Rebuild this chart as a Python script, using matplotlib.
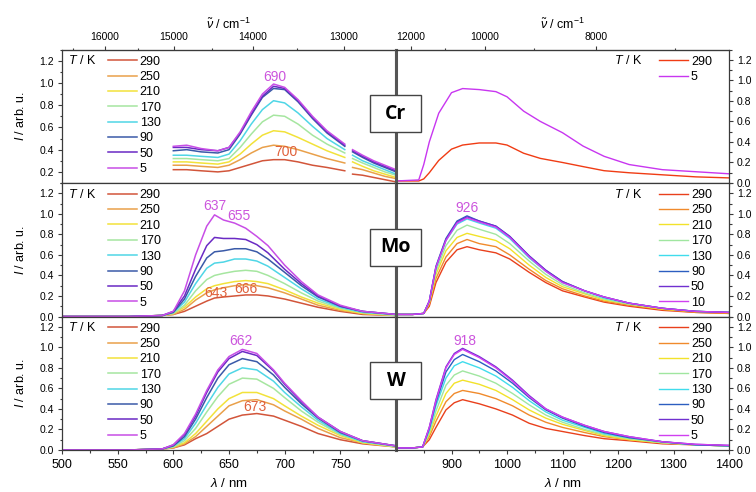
import numpy as np
import matplotlib.pyplot as plt
from matplotlib.patches import Rectangle
from matplotlib.ticker import MultipleLocator, FixedLocator, FormatStrFormatter

plt.rcParams['font.family'] = ['Liberation Sans', 'DejaVu Sans']
plt.rcParams['mathtext.fontset'] = 'custom'
plt.rcParams['mathtext.rm'] = 'Liberation Sans'
plt.rcParams['mathtext.it'] = 'Liberation Sans:italic'

# --- data ---
temps = [290, 250, 210, 170, 130, 90, 50, 5]
temps_mo_nir = [290, 250, 210, 170, 130, 90, 50, 10]
temps_cr_nir = [290, 5]

vis_colors = ['#d2553a', '#e9a04a', '#f2e23a', '#a6e6a0', '#4fd6e6', '#3a5aa8', '#6a2ac4', '#c84ee6']
nir_colors = ['#e9401c', '#f08a2c', '#f2e22a', '#a0e6a0', '#40dcec', '#2c5ec0', '#7030d0', '#d040f0']
cr_nir_colors = ['#f03c14', '#c836f0']

# Cr, visible (two segments, gap near 757 nm)
cr_vis_wl_a = [600, 612, 625, 640, 650, 660, 670, 680, 690, 700, 712, 725, 738, 754]
cr_vis_wl_b = [761, 770, 780, 790, 800]
cr_vis_a = {
    290: [0.22, 0.22, 0.21, 0.20, 0.21, 0.24, 0.27, 0.30, 0.31, 0.31, 0.29, 0.26, 0.24, 0.21],
    250: [0.26, 0.26, 0.25, 0.24, 0.26, 0.31, 0.37, 0.42, 0.44, 0.43, 0.40, 0.36, 0.32, 0.28],
    210: [0.29, 0.29, 0.28, 0.27, 0.29, 0.36, 0.45, 0.53, 0.57, 0.56, 0.51, 0.45, 0.39, 0.33],
    170: [0.32, 0.32, 0.31, 0.30, 0.32, 0.42, 0.54, 0.65, 0.71, 0.70, 0.63, 0.53, 0.45, 0.37],
    130: [0.35, 0.35, 0.34, 0.33, 0.36, 0.48, 0.63, 0.76, 0.84, 0.82, 0.73, 0.61, 0.50, 0.40],
    90: [0.39, 0.40, 0.38, 0.37, 0.40, 0.54, 0.71, 0.87, 0.95, 0.94, 0.83, 0.68, 0.55, 0.43],
    50: [0.42, 0.42, 0.40, 0.39, 0.42, 0.55, 0.72, 0.88, 0.97, 0.95, 0.84, 0.69, 0.56, 0.44],
    5: [0.43, 0.44, 0.41, 0.39, 0.42, 0.56, 0.74, 0.90, 0.99, 0.96, 0.85, 0.70, 0.57, 0.45],
}
cr_vis_b = {
    290: [0.18, 0.17, 0.15, 0.13, 0.11],
    250: [0.24, 0.22, 0.19, 0.16, 0.14],
    210: [0.29, 0.25, 0.21, 0.18, 0.15],
    170: [0.32, 0.28, 0.24, 0.20, 0.17],
    130: [0.35, 0.30, 0.26, 0.22, 0.18],
    90: [0.38, 0.33, 0.28, 0.24, 0.20],
    50: [0.39, 0.34, 0.29, 0.25, 0.21],
    5: [0.40, 0.35, 0.30, 0.26, 0.22],
}

# Cr, near infrared
cr_nir_wl = [800, 841, 850, 860, 877, 900, 920, 950, 980, 1000, 1030, 1060, 1100, 1137, 1175, 1220, 1280, 1340, 1400]
cr_nir = {
    290: [0.02, 0.02, 0.04, 0.10, 0.22, 0.33, 0.37, 0.39, 0.39, 0.37, 0.29, 0.24, 0.20, 0.16, 0.12, 0.10, 0.08, 0.06, 0.05],
    5: [0.02, 0.03, 0.18, 0.40, 0.68, 0.88, 0.92, 0.91, 0.89, 0.84, 0.70, 0.60, 0.49, 0.36, 0.26, 0.18, 0.13, 0.11, 0.09],
}

# Mo, visible
mo_vis_wl = [500, 560, 590, 600, 610, 620, 630, 637, 645, 655, 665, 675, 685, 700, 715, 730, 750, 770, 800]
mo_vis = {
    290: [0, 0, 0.01, 0.02, 0.05, 0.10, 0.15, 0.18, 0.19, 0.20, 0.21, 0.21, 0.20, 0.17, 0.13, 0.09, 0.05, 0.02, 0.01],
    250: [0, 0, 0.01, 0.02, 0.07, 0.16, 0.23, 0.26, 0.28, 0.30, 0.31, 0.30, 0.28, 0.23, 0.17, 0.11, 0.06, 0.03, 0.01],
    210: [0, 0, 0.01, 0.03, 0.09, 0.19, 0.27, 0.30, 0.32, 0.34, 0.35, 0.34, 0.32, 0.26, 0.19, 0.13, 0.07, 0.03, 0.01],
    170: [0, 0, 0.01, 0.03, 0.11, 0.25, 0.36, 0.40, 0.42, 0.44, 0.45, 0.44, 0.40, 0.32, 0.23, 0.15, 0.08, 0.04, 0.01],
    130: [0, 0, 0.01, 0.04, 0.14, 0.32, 0.47, 0.52, 0.53, 0.56, 0.56, 0.54, 0.49, 0.38, 0.27, 0.17, 0.09, 0.04, 0.02],
    90: [0, 0, 0.01, 0.04, 0.17, 0.39, 0.57, 0.63, 0.64, 0.66, 0.66, 0.63, 0.56, 0.43, 0.30, 0.19, 0.10, 0.05, 0.02],
    50: [0, 0, 0.01, 0.05, 0.20, 0.46, 0.69, 0.77, 0.76, 0.76, 0.75, 0.70, 0.62, 0.46, 0.32, 0.20, 0.10, 0.05, 0.02],
    5: [0, 0, 0.01, 0.05, 0.25, 0.60, 0.88, 0.99, 0.94, 0.91, 0.86, 0.78, 0.69, 0.50, 0.34, 0.21, 0.11, 0.05, 0.02],
}

# Mo, near infrared
mo_nir_wl = [800, 830, 850, 860, 872, 890, 910, 928, 950, 980, 1005, 1040, 1070, 1100, 1140, 1175, 1220, 1280, 1340, 1400]
mo_nir = {
    290: [0.02, 0.02, 0.03, 0.10, 0.33, 0.53, 0.65, 0.68, 0.65, 0.62, 0.56, 0.43, 0.33, 0.25, 0.19, 0.14, 0.10, 0.06, 0.04, 0.03],
    250: [0.02, 0.02, 0.03, 0.12, 0.37, 0.58, 0.71, 0.75, 0.71, 0.68, 0.60, 0.46, 0.35, 0.27, 0.20, 0.15, 0.11, 0.07, 0.04, 0.03],
    210: [0.02, 0.02, 0.03, 0.13, 0.41, 0.64, 0.77, 0.81, 0.78, 0.74, 0.66, 0.50, 0.38, 0.29, 0.22, 0.16, 0.12, 0.07, 0.05, 0.04],
    170: [0.02, 0.02, 0.03, 0.14, 0.44, 0.69, 0.84, 0.89, 0.85, 0.80, 0.71, 0.54, 0.41, 0.31, 0.23, 0.17, 0.12, 0.08, 0.05, 0.04],
    130: [0.02, 0.02, 0.03, 0.15, 0.47, 0.74, 0.90, 0.95, 0.91, 0.86, 0.76, 0.57, 0.44, 0.33, 0.25, 0.18, 0.13, 0.08, 0.05, 0.04],
    90: [0.02, 0.02, 0.03, 0.15, 0.49, 0.76, 0.93, 0.98, 0.93, 0.88, 0.78, 0.59, 0.45, 0.34, 0.25, 0.19, 0.13, 0.08, 0.05, 0.04],
    50: [0.02, 0.02, 0.03, 0.15, 0.48, 0.75, 0.92, 0.97, 0.93, 0.88, 0.78, 0.59, 0.45, 0.34, 0.25, 0.19, 0.13, 0.08, 0.05, 0.04],
    10: [0.02, 0.02, 0.03, 0.15, 0.48, 0.74, 0.91, 0.96, 0.92, 0.87, 0.77, 0.58, 0.44, 0.33, 0.25, 0.19, 0.13, 0.08, 0.05, 0.04],
}

# W, visible
w_vis_wl = [500, 560, 590, 600, 610, 620, 630, 640, 650, 662, 675, 690, 700, 715, 730, 750, 770, 800]
w_vis = {
    290: [0, 0, 0.01, 0.02, 0.05, 0.11, 0.16, 0.23, 0.30, 0.34, 0.355, 0.33, 0.29, 0.23, 0.16, 0.10, 0.06, 0.03],
    250: [0, 0, 0.01, 0.02, 0.06, 0.13, 0.23, 0.33, 0.43, 0.48, 0.49, 0.44, 0.38, 0.30, 0.21, 0.12, 0.07, 0.03],
    210: [0, 0, 0.01, 0.03, 0.07, 0.16, 0.28, 0.40, 0.50, 0.56, 0.56, 0.50, 0.43, 0.33, 0.24, 0.14, 0.07, 0.03],
    170: [0, 0, 0.01, 0.03, 0.09, 0.21, 0.37, 0.52, 0.64, 0.70, 0.69, 0.60, 0.51, 0.38, 0.27, 0.15, 0.08, 0.03],
    130: [0, 0, 0.01, 0.04, 0.11, 0.26, 0.44, 0.61, 0.74, 0.80, 0.78, 0.67, 0.56, 0.42, 0.29, 0.16, 0.08, 0.04],
    90: [0, 0, 0.01, 0.04, 0.13, 0.30, 0.51, 0.70, 0.83, 0.89, 0.86, 0.73, 0.61, 0.45, 0.31, 0.17, 0.09, 0.04],
    50: [0, 0, 0.01, 0.05, 0.15, 0.33, 0.56, 0.76, 0.89, 0.96, 0.92, 0.77, 0.64, 0.47, 0.32, 0.18, 0.09, 0.04],
    5: [0, 0, 0.01, 0.05, 0.16, 0.35, 0.58, 0.78, 0.91, 0.98, 0.94, 0.78, 0.65, 0.48, 0.32, 0.18, 0.09, 0.04],
}

# W, near infrared
w_nir_wl = [800, 830, 848, 860, 872, 890, 905, 920, 950, 980, 1010, 1040, 1070, 1100, 1140, 1175, 1220, 1280, 1340, 1400]
w_nir = {
    290: [0.02, 0.02, 0.03, 0.10, 0.22, 0.39, 0.46, 0.49, 0.45, 0.40, 0.34, 0.26, 0.21, 0.18, 0.14, 0.11, 0.09, 0.06, 0.05, 0.04],
    250: [0.02, 0.02, 0.03, 0.13, 0.28, 0.47, 0.55, 0.58, 0.55, 0.50, 0.43, 0.34, 0.27, 0.22, 0.17, 0.13, 0.10, 0.07, 0.05, 0.04],
    210: [0.02, 0.02, 0.03, 0.15, 0.33, 0.55, 0.65, 0.68, 0.64, 0.58, 0.49, 0.39, 0.31, 0.25, 0.19, 0.14, 0.10, 0.07, 0.05, 0.04],
    170: [0.02, 0.02, 0.03, 0.17, 0.38, 0.63, 0.73, 0.77, 0.72, 0.65, 0.55, 0.44, 0.34, 0.27, 0.20, 0.15, 0.11, 0.07, 0.05, 0.04],
    130: [0.02, 0.02, 0.03, 0.19, 0.43, 0.70, 0.82, 0.86, 0.80, 0.72, 0.61, 0.48, 0.37, 0.29, 0.22, 0.16, 0.12, 0.08, 0.05, 0.04],
    90: [0.02, 0.02, 0.03, 0.21, 0.46, 0.76, 0.88, 0.93, 0.86, 0.77, 0.65, 0.51, 0.39, 0.31, 0.23, 0.17, 0.12, 0.08, 0.05, 0.04],
    50: [0.02, 0.02, 0.03, 0.22, 0.49, 0.81, 0.94, 0.99, 0.91, 0.81, 0.68, 0.53, 0.40, 0.32, 0.24, 0.18, 0.13, 0.08, 0.055, 0.045],
    5: [0.02, 0.02, 0.03, 0.22, 0.48, 0.80, 0.93, 0.98, 0.90, 0.80, 0.67, 0.52, 0.40, 0.32, 0.24, 0.18, 0.13, 0.08, 0.055, 0.045],
}

MAG = '#cc55dd'
RED = '#e0603a'
EDGE = '#3a3a3a'


# top axis (wavenumber) mappings as drawn in the figure
def fwd_left(x):
    x = np.asarray(x, float)
    with np.errstate(divide='ignore', invalid='ignore'):
        return 1.66e7 / ((x - 500) * 1.113 + 995)


def inv_left(v):
    v = np.asarray(v, float)
    with np.errstate(divide='ignore', invalid='ignore'):
        return 500 + (1.66e7 / v - 995) / 1.113


def fwd_right(x):
    x = np.asarray(x, float)
    with np.errstate(divide='ignore', invalid='ignore'):
        return 4.44e6 / ((x - 800) * 0.555 + 355)


def inv_right(v):
    v = np.asarray(v, float)
    with np.errstate(divide='ignore', invalid='ignore'):
        return 800 + (4.44e6 / v - 355) / 0.555


fig = plt.figure(figsize=(7.56, 4.92), dpi=100)
XL, WL = 62 / 756, 334 / 756
XR, WR = 396 / 756, 333 / 756
H = 0.2713
bottoms = [0.6280, 0.3567, 0.0854]


def style(ax, side, ymin, last):
    for sp in ax.spines.values():
        sp.set_color(EDGE)
        sp.set_linewidth(0.9)
    ax.set_ylim(ymin, 1.3)
    ax.yaxis.set_major_locator(MultipleLocator(0.2))
    ax.yaxis.set_minor_locator(MultipleLocator(0.1))
    ax.yaxis.set_major_formatter(FormatStrFormatter('%.1f'))
    ax.tick_params(which='both', direction='out', color=EDGE, width=0.8)
    ax.tick_params(which='major', length=3.2)
    ax.tick_params(which='minor', length=1.8)
    ax.tick_params(axis='y', labelsize=7.5, pad=2.5)
    ax.tick_params(axis='x', labelsize=9, labelbottom=last, pad=3)
    if side == 'right':
        ax.yaxis.tick_right()
        ax.spines['left'].set_linewidth(2.2)
        ax.spines['left'].set_color('#555555')
        ax.set_xlim(800, 1400)
        ax.xaxis.set_major_locator(FixedLocator([900, 1000, 1100, 1200, 1300, 1400]))
        ax.xaxis.set_minor_locator(FixedLocator([850, 950, 1050, 1150, 1250, 1350]))
    else:
        ax.spines['right'].set_linewidth(2.2)
        ax.spines['right'].set_color('#555555')
        ax.set_xlim(500, 800)
        ax.xaxis.set_major_locator(FixedLocator([500, 550, 600, 650, 700, 750]))
        ax.xaxis.set_minor_locator(FixedLocator([525, 575, 625, 675, 725, 775]))
        ax.set_ylabel(r'$I$ / arb. u.', fontsize=9, labelpad=9)
    if last:
        ax.set_xlabel(r'$\lambda$ / nm', fontsize=9.5, labelpad=4.5)


def add_legend(ax, side, ts):
    if side == 'left':
        tx, lx = 0.018, 0.137
    else:
        tx, lx = 0.655, 0.790
    ax.text(tx, 0.917, r'$T$ / K', transform=ax.transAxes, fontsize=9, va='center', ha='left')
    handles, labels = ax.get_legend_handles_labels()
    ax.legend(handles, labels, loc='upper left', bbox_to_anchor=(lx, 0.955), frameon=False,
              fontsize=9, handlelength=2.3, handletextpad=0.25, labelspacing=0.27,
              borderpad=0, borderaxespad=0)


panels = ['Cr', 'Mo', 'W']
for i, name in enumerate(panels):
    last = i == 2
    axl = fig.add_axes([XL, bottoms[i], WL, H])
    axr = fig.add_axes([XR, bottoms[i], WR, H])

    if name == 'Cr':
        for t, c in zip(temps, vis_colors):
            axl.plot(cr_vis_wl_a, cr_vis_a[t], color=c, lw=1.1, label=str(t))
            axl.plot(cr_vis_wl_b, cr_vis_b[t], color=c, lw=1.1)
        for t, c in zip(temps_cr_nir, cr_nir_colors):
            axr.plot(cr_nir_wl, cr_nir[t], color=c, lw=1.0, label=str(t))
        style(axl, 'left', 0.1, last)
        style(axr, 'right', 0.0, last)
        add_legend(axl, 'left', temps)
        add_legend(axr, 'right', temps_cr_nir)
        axl.text(691, 1.05, '690', color=MAG, fontsize=10, ha='center', va='center')
        axl.text(701, 0.38, '700', color=RED, fontsize=10, ha='center', va='center')
    elif name == 'Mo':
        for t, c in zip(temps, vis_colors):
            axl.plot(mo_vis_wl, mo_vis[t], color=c, lw=1.1, label=str(t))
        for t, c in zip(temps_mo_nir, nir_colors):
            axr.plot(mo_nir_wl, mo_nir[t], color=c, lw=1.0, label=str(t))
        style(axl, 'left', 0.0, last)
        style(axr, 'right', 0.0, last)
        add_legend(axl, 'left', temps)
        add_legend(axr, 'right', temps_mo_nir)
        axl.text(637, 1.075, '637', color=MAG, fontsize=10, ha='center', va='center')
        axl.text(659, 0.98, '655', color=MAG, fontsize=10, ha='center', va='center')
        axl.text(638, 0.225, '643', color=RED, fontsize=10, ha='center', va='center')
        axl.text(665, 0.27, '666', color=RED, fontsize=10, ha='center', va='center')
        axr.text(928, 1.06, '926', color=MAG, fontsize=10, ha='center', va='center')
    else:
        for t, c in zip(temps, vis_colors):
            axl.plot(w_vis_wl, w_vis[t], color=c, lw=1.1, label=str(t))
        for t, c in zip(temps, nir_colors):
            axr.plot(w_nir_wl, w_nir[t], color=c, lw=1.0, label=str(t))
        style(axl, 'left', 0.0, last)
        style(axr, 'right', 0.0, last)
        add_legend(axl, 'left', temps)
        add_legend(axr, 'right', temps)
        axl.text(661, 1.06, '662', color=MAG, fontsize=10, ha='center', va='center')
        axl.text(673, 0.42, '673', color=RED, fontsize=10, ha='center', va='center')
        axr.text(924, 1.06, '918', color=MAG, fontsize=10, ha='center', va='center')

    if name == 'Cr':
        for ax, fw, iv, major, minor in [
                (axl, fwd_left, inv_left, [16000, 15000, 14000, 13000], [16500, 15500, 14500, 13500]),
                (axr, fwd_right, inv_right, [12000, 10000, 8000], [11000, 9000, 7000])]:
            sec = ax.secondary_xaxis('top', functions=(fw, iv))
            sec.xaxis.set_major_locator(FixedLocator(major))
            sec.xaxis.set_minor_locator(FixedLocator(minor))
            sec.tick_params(which='both', direction='out', color=EDGE, width=0.8, labelsize=7.5, pad=2)
            sec.tick_params(which='major', length=3.2)
            sec.tick_params(which='minor', length=1.8)
            sec.spines['top'].set_color(EDGE)
            sec.set_xlabel(r'$\tilde{\nu}$ / cm$^{-1}$', fontsize=9, labelpad=2.5)

    # element label box straddling the divider
    yc = bottoms[i] + H * 0.52
    fig.add_artist(Rectangle((370 / 756, yc - 18.5 / 492), 51 / 756, 37 / 492,
                             transform=fig.transFigure, facecolor='white',
                             edgecolor='#444444', lw=1.0, zorder=10))
    fig.text(396 / 756, yc, name, fontsize=14, fontweight='bold', family='Open Sans',
             ha='center', va='center', zorder=11)

fig.savefig('out.png', dpi=100)
